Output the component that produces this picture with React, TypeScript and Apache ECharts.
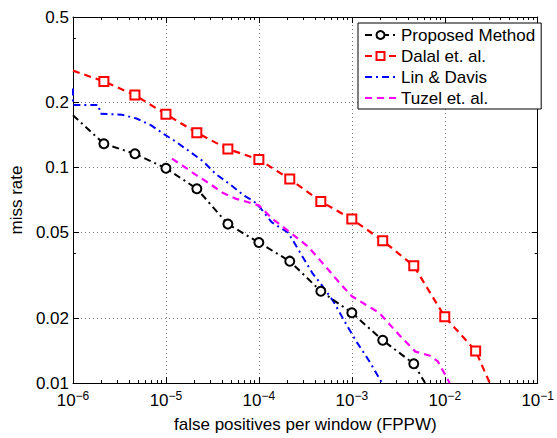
import React, { useEffect, useRef } from "react";
import * as echarts from "echarts";

// ---- axis ticks / labels ----
const xMajor = [1e-6, 1e-5, 1e-4, 1e-3, 1e-2, 1e-1];
const xMajorExp = ["−6", "−5", "−4", "−3", "−2", "−1"];
const xMinor = [
  2e-6, 3e-6, 4e-6, 5e-6, 6e-6, 7e-6, 8e-6, 9e-6,
  2e-5, 3e-5, 4e-5, 5e-5, 6e-5, 7e-5, 8e-5, 9e-5,
  2e-4, 3e-4, 4e-4, 5e-4, 6e-4, 7e-4, 8e-4, 9e-4,
  2e-3, 3e-3, 4e-3, 5e-3, 6e-3, 7e-3, 8e-3, 9e-3,
  2e-2, 3e-2, 4e-2, 5e-2, 6e-2, 7e-2, 8e-2, 9e-2,
];
const yMajor = [0.01, 0.02, 0.05, 0.1, 0.2, 0.5];
const yMajorLabels = ["0.01", "0.02", "0.05", "0.1", "0.2", "0.5"];
const yMinor = [0.04, 0.4];

// ---- series ----
const seriesNames = ["Proposed Method", "Dalal et. al.", "Lin & Davis", "Tuzel et. al."];

const proposedX = [1e-6, 2.15e-6, 4.64e-6, 1e-5, 2.15e-5, 4.64e-5, 1e-4, 2.15e-4, 4.64e-4, 1e-3, 2.15e-3, 4.64e-3, 6.15e-3];
const proposedY = [0.175, 0.129, 0.116, 0.0993, 0.0798, 0.0547, 0.0449, 0.0368, 0.0267, 0.0212, 0.0158, 0.0123, 0.01];

const dalalX = [1e-6, 2.15e-6, 4.64e-6, 1e-5, 2.15e-5, 4.64e-5, 1e-4, 2.15e-4, 4.64e-4, 1e-3, 2.15e-3, 4.64e-3, 1e-2, 2.15e-2, 3.05e-2];
const dalalY = [0.282, 0.251, 0.217, 0.177, 0.145, 0.122, 0.109, 0.0885, 0.0696, 0.0577, 0.0458, 0.035, 0.0203, 0.0141, 0.01];

const linX = [1e-6, 1e-6, 1.88e-6, 1.97e-6, 3.36e-6, 4.83e-6, 6.95e-6, 9.52e-6, 1.21e-5, 1.79e-5, 2.51e-5, 3.44e-5, 4.83e-5, 6.95e-5, 8.85e-5, 1.03e-4, 1.37e-4, 2.07e-4, 2.84e-4, 3.8e-4, 4.61e-4, 6.31e-4, 8.86e-4, 1.13e-3, 1.55e-3, 2.12e-3];
const linY = [0.233, 0.195, 0.195, 0.178, 0.176, 0.169, 0.157, 0.143, 0.134, 0.119, 0.107, 0.0933, 0.084, 0.0741, 0.0697, 0.0653, 0.0558, 0.0499, 0.0397, 0.0322, 0.029, 0.024, 0.0185, 0.0155, 0.0126, 0.01];

const tuzelX = [1.16e-5, 1.55e-5, 2.12e-5, 2.98e-5, 4.08e-5, 5.59e-5, 7.86e-5, 1e-4, 1.37e-4, 2.12e-4, 3.36e-4, 4.95e-4, 7.48e-4, 1e-3, 1.37e-3, 1.97e-3, 3.2e-3, 4.83e-3, 6.95e-3, 8.43e-3, 1.13e-2];
const tuzelY = [0.11, 0.1014, 0.0923, 0.084, 0.0764, 0.0718, 0.0689, 0.0668, 0.0583, 0.0504, 0.0431, 0.0357, 0.029, 0.0253, 0.0233, 0.0212, 0.0168, 0.014, 0.0134, 0.0126, 0.01];

const FONT = "'Liberation Sans', Arial, Helvetica, sans-serif";

function markedData(xs: number[], ys: number[]) {
  const last = xs.length - 1;
  return xs.map((x, i) =>
    i === 0 || i === last ? { value: [x, ys[i]], symbol: "none" } : { value: [x, ys[i]] }
  );
}
function plainData(xs: number[], ys: number[]) {
  return xs.map((x, i) => [x, ys[i]]);
}

function nearestIndex(arr: number[], v: number) {
  let best = 0;
  let bd = Infinity;
  arr.forEach((a, i) => {
    const d = Math.abs(Math.log10(a) - Math.log10(v));
    if (d < bd) {
      bd = d;
      best = i;
    }
  });
  return best;
}

export default function App() {
  const ref = useRef<HTMLDivElement>(null);
  useEffect(() => {
    if (!ref.current) return;
    const chart = echarts.init(ref.current, undefined, { renderer: "svg" });
    const gridLine = { show: true, lineStyle: { type: [1, 3], color: "#777", width: 1 } };
    const axisLine = { show: true, onZero: false, lineStyle: { color: "#000", width: 1 } };
    const majorTick = (vals: number[]) => ({
      show: true, inside: true, length: 6, customValues: vals, lineStyle: { color: "#000", width: 1 },
    });
    const minorTick = (vals: number[]) => ({
      show: true, inside: true, length: 3, customValues: vals, lineStyle: { color: "#000", width: 1 },
    });
    const xBase = { type: "log", logBase: 10, min: 1e-6, max: 1e-1 };
    const yBase = { type: "log", logBase: 10, min: 0.01, max: 0.5 };
    const hiddenLabel = { show: false };

    const option: any = {
      animation: false,
      backgroundColor: "#fff",
      textStyle: { fontFamily: FONT },
      grid: { left: 67, top: 17, width: 475, height: 375, containLabel: false },
      legend: {
        orient: "vertical",
        left: 358,
        top: 23,
        backgroundColor: "#fff",
        borderColor: "#000",
        borderWidth: 1,
        borderRadius: 0,
        padding: [2, 6, 1, 6],
        itemGap: 1,
        itemWidth: 31,
        itemHeight: 10,
        textStyle: { fontSize: 17, color: "#000", fontFamily: FONT, lineHeight: 20 },
        data: [
          { name: seriesNames[0] },
          { name: seriesNames[1] },
          { name: seriesNames[2], itemStyle: { opacity: 0 } },
          { name: seriesNames[3], itemStyle: { opacity: 0 } },
        ],
      },
      xAxis: [
        {
          ...xBase,
          position: "bottom",
          axisLine,
          axisTick: majorTick(xMajor),
          axisLabel: {
            show: true,
            customValues: xMajor,
            margin: 9,
            color: "#000",
            fontFamily: FONT,
            formatter: (v: number) => `{b|10}{s|${xMajorExp[nearestIndex(xMajor, v)]}}`,
            rich: {
              b: { fontSize: 17, fontFamily: FONT, color: "#000", lineHeight: 17 },
              s: { fontSize: 12, fontFamily: FONT, color: "#000", lineHeight: 12, padding: [0, 0, 9, 0] },
            },
          },
          splitLine: gridLine,
          name: "false positives per window (FPPW)",
          nameLocation: "middle",
          nameGap: 24,
          nameTextStyle: { fontSize: 17, color: "#000", fontFamily: FONT },
        },
        { ...xBase, position: "bottom", axisLine: { show: false }, axisTick: minorTick(xMinor), axisLabel: hiddenLabel, splitLine: { show: false } },
        { ...xBase, position: "top", axisLine, axisTick: majorTick(xMajor), axisLabel: hiddenLabel, splitLine: { show: false } },
        { ...xBase, position: "top", axisLine: { show: false }, axisTick: minorTick(xMinor), axisLabel: hiddenLabel, splitLine: { show: false } },
      ],
      yAxis: [
        {
          ...yBase,
          position: "left",
          axisLine,
          axisTick: majorTick(yMajor),
          axisLabel: {
            show: true,
            customValues: yMajor,
            margin: 4,
            color: "#000",
            fontSize: 17,
            lineHeight: 14,
            fontFamily: FONT,
            formatter: (v: number) => yMajorLabels[nearestIndex(yMajor, v)],
          },
          splitLine: gridLine,
          name: "miss rate",
          nameLocation: "middle",
          nameGap: 42,
          nameTextStyle: { fontSize: 17, color: "#000", fontFamily: FONT },
        },
        { ...yBase, position: "left", axisLine: { show: false }, axisTick: minorTick(yMinor), axisLabel: hiddenLabel, splitLine: { show: false } },
        { ...yBase, position: "right", axisLine, axisTick: majorTick(yMajor), axisLabel: hiddenLabel, splitLine: { show: false } },
        { ...yBase, position: "right", axisLine: { show: false }, axisTick: minorTick(yMinor), axisLabel: hiddenLabel, splitLine: { show: false } },
      ],
      series: [
        {
          name: seriesNames[0],
          type: "line",
          xAxisIndex: 0,
          yAxisIndex: 0,
          data: markedData(proposedX, proposedY),
          symbol: "emptyCircle",
          symbolSize: 9,
          color: "#000",
          lineStyle: { color: "#000", width: 2, type: [7, 4, 2, 4] },
          itemStyle: { color: "#000", borderColor: "#000", borderWidth: 2 },
          z: 5,
        },
        {
          name: seriesNames[1],
          type: "line",
          xAxisIndex: 0,
          yAxisIndex: 0,
          data: markedData(dalalX, dalalY),
          symbol: "emptyRect",
          symbolSize: 9,
          color: "#ff0000",
          lineStyle: { color: "#ff0000", width: 2.2, type: [7, 5] },
          itemStyle: { color: "#ff0000", borderColor: "#ff0000", borderWidth: 2 },
          z: 4,
        },
        {
          name: seriesNames[2],
          type: "line",
          xAxisIndex: 0,
          yAxisIndex: 0,
          data: plainData(linX, linY),
          symbol: "none",
          color: "#0000ff",
          lineStyle: { color: "#0000ff", width: 2, type: [7, 4, 2, 4] },
          z: 3,
        },
        {
          name: seriesNames[3],
          type: "line",
          xAxisIndex: 0,
          yAxisIndex: 0,
          data: plainData(tuzelX, tuzelY),
          symbol: "none",
          color: "#ff00ff",
          lineStyle: { color: "#ff00ff", width: 2.2, type: [7, 5] },
          z: 3,
        },
      ],
    };
    chart.setOption(option);
    return () => chart.dispose();
  }, []);
  return (
    <div
      ref={ref}
      style={{ position: "absolute", left: 0, top: 0, width: 557, height: 438, background: "#fff" }}
    />
  );
}
